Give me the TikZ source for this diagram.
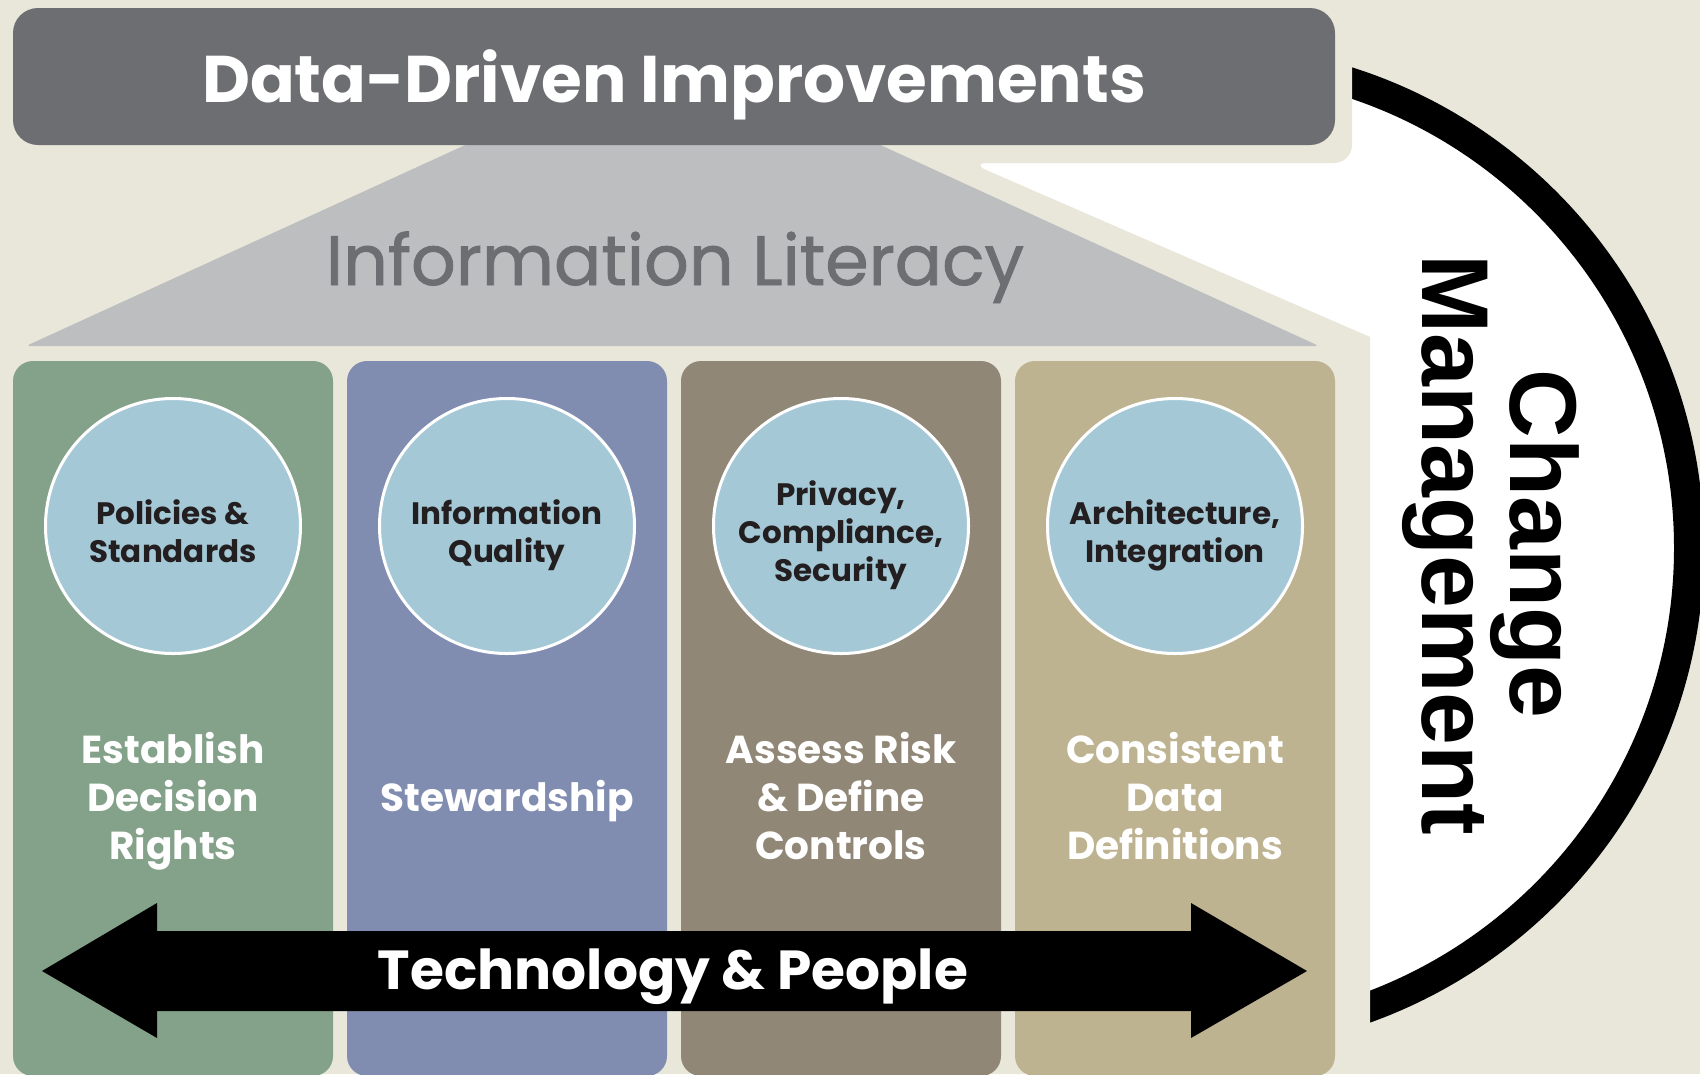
\documentclass[tikz,border=0pt]{standalone}
\usepackage{fontspec}
\setmainfont{Poppins}
\newfontfamily\cmfont{Liberation Sans}
\newfontfamily\medfont{Poppins}[FakeBold=1.2]

\definecolor{bgbeige}{HTML}{E9E6DA}
\definecolor{bargrey}{HTML}{6D6E71}
\definecolor{roofgrey}{HTML}{BCBEC0}
\definecolor{pgreen}{HTML}{84A18A}
\definecolor{pblue}{HTML}{808DB0}
\definecolor{ptaupe}{HTML}{918777}
\definecolor{ptan}{HTML}{BEB391}
\definecolor{circblue}{HTML}{A4C8D6}
\definecolor{inkdark}{HTML}{231F20}

\begin{document}
\begin{tikzpicture}[x=1pt,y=-1pt,
  pillar/.style={rectangle, rounded corners=20pt, minimum width=320pt,
    minimum height=715pt, inner sep=0pt},
  topic/.style={circle, fill=circblue, draw=white, line width=3pt,
    minimum size=255pt, inner sep=0pt},
  topictext/.style={align=center, text=inkdark, inner sep=0pt, yshift=-10pt,
    font=\bfseries\fontsize{31}{38}\selectfont},
  pillartext/.style={text=white, align=center, inner sep=0pt,
    font=\bfseries\fontsize{39}{48}\selectfont},
  cmtext/.style={rotate=-90, inner sep=0pt,
    font=\cmfont\bfseries\fontsize{95}{95}\selectfont}]

\useasboundingbox (0,0) rectangle (1700,1074);
\fill[bgbeige] (0,0) rectangle (1700,1074);

% half disc with its black rim
\draw[fill=white, line width=30pt] (1200,548) circle[radius=489pt];

% beige margin around the house shape
\fill[bgbeige] (0,0) -- (1352,0) [rounded corners=18pt] -- (1352,163)
  -- (970,163) [sharp corners] -- (1370,337) -- (1370,1074) -- (0,1074) -- cycle;

% roof
\fill[roofgrey, rounded corners=4pt] (26,346) -- (673,50) -- (1319,346) -- cycle;
\node[anchor=base, text=bargrey, font=\medfont\fontsize{70}{80}\selectfont] (lit)
  at (675,285) {Information Literacy};

% top bar
\fill[bargrey, rounded corners=25pt] (13,8) rectangle (1335,145);
\node[anchor=base, text=white, font=\bfseries\fontsize{66}{80}\selectfont] (title)
  at (674,102) {Data-Driven Improvements};

% pillars
\node[pillar, fill=pgreen] (p1) at (173,718.5) {};
\node[pillar, fill=pblue]  (p2) at (507,718.5) {};
\node[pillar, fill=ptaupe] (p3) at (841,718.5) {};
\node[pillar, fill=ptan]   (p4) at (1175,718.5) {};

% topic circles and their texts
\node[topic] (c1) at (173,526) {};
\node[topic] (c2) at (507,526) {};
\node[topic] (c3) at (841,526) {};
\node[topic] (c4) at (1175,526) {};
\node[topictext] (c1t) at (c1) {\strut Policies \&\\\strut Standards};
\node[topictext] (c2t) at (c2) {\strut Information\\\strut Quality};
\node[topictext] (c3t) at (c3) {\strut Privacy,\\\strut Compliance,\\\strut Security};
\node[topictext] (c4t) at (c4) {\strut Architecture,\\\strut Integration};

% pillar captions
\node[pillartext] (t1) at (173,801) {Establish\\Decision\\Rights};
\node[pillartext] (t2) at (507,801) {Stewardship};
\node[pillartext] (t3) at (841,796) {Assess Risk\\\& Define\\Controls};
\node[pillartext] (t4) at (1175,796) {Consistent\\Data\\Definitions};

% double arrow across the base
\fill[black] (42,971) -- (157,903) -- (157,931) -- (1191,931) -- (1191,903)
  -- (1307,971) -- (1191,1038) -- (1191,1011) -- (157,1011) -- (157,1038) -- cycle;
\node[anchor=base, text=white, font=\bfseries\fontsize{55}{60}\selectfont] (tp)
  at (673,989) {Technology \& People};

% side label
\node[cmtext, anchor=base] (chg) at (1510,544) {Change};
\node[cmtext, anchor=base] (mgmt) at (1422,545) {Management};

\end{tikzpicture}
\end{document}
